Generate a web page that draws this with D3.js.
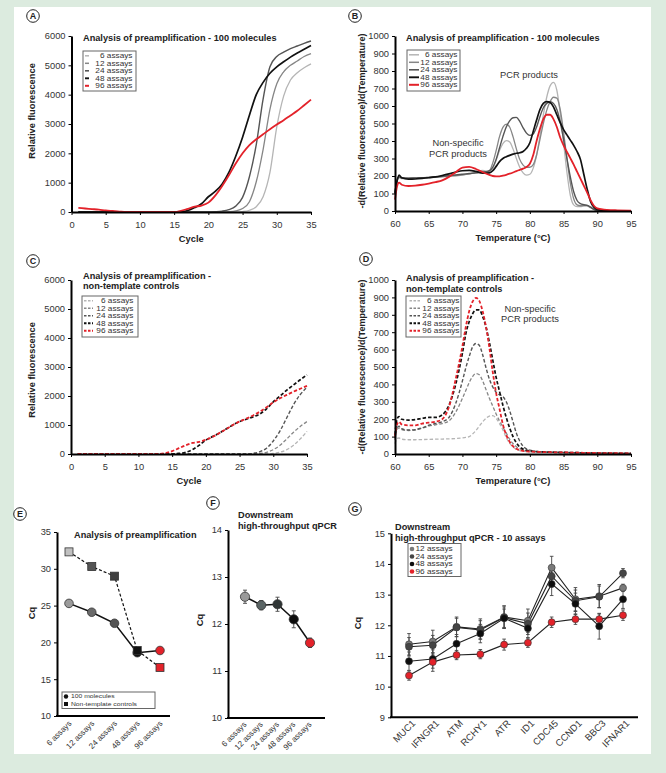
<!DOCTYPE html>
<html><head><meta charset="utf-8">
<script src="https://cdn.jsdelivr.net/npm/d3@7"></script>
<style>body{margin:0;background:#dcebdf}svg{display:block}text{font-family:"Liberation Sans",Arial,Helvetica,sans-serif}</style>
</head><body><svg id="c" width="666" height="773"></svg>
<script>
// ---------- DATA ----------
const seriesNames = ["6 assays","12 assays","24 assays","48 assays","96 assays"];
const cycles = [1,2,3,4,5,6,7,8,9,10,11,12,13,14,15,16,17,18,19,20,21,22,23,24,25,26,27,28,29,30,31,32,33,34,35];
// Panel A: amplification, 100 molecules
const a6  = [0,0,0,0,0,0,0,0,0,0,0,0,0,0,0,0,0,0,0,0,0,0,0,0,15,60,180,520,1350,2900,3950,4500,4750,4920,5050];
const a12 = [0,0,0,0,0,0,0,0,0,0,0,0,0,0,0,0,0,0,0,0,0,0,10,40,120,350,1030,2130,3500,4370,4780,5000,5150,5300,5400];
const a24 = [0,0,0,0,0,0,0,0,0,0,0,0,0,0,0,0,0,0,0,0,10,30,80,200,500,1200,2300,3850,4950,5300,5450,5570,5660,5750,5830];
const a48 = [0,0,0,0,0,0,0,0,0,0,0,0,0,0,0,10,50,150,280,520,700,950,1350,1900,2550,3300,4000,4420,4730,4950,5120,5280,5420,5550,5680];
const a96 = [140,120,100,80,55,35,15,0,0,0,0,0,0,0,0,40,110,180,220,320,560,880,1250,1650,2000,2280,2480,2650,2820,2980,3130,3290,3450,3640,3830];
// Panel C: amplification, non-template controls
const c6  = [0,0,0,0,0,0,0,0,0,0,0,0,0,0,0,0,0,0,0,0,0,0,0,0,0,0,0,0,0,20,60,150,300,520,780];
const c12 = [0,0,0,0,0,0,0,0,0,0,0,0,0,0,0,0,0,0,0,0,0,0,0,0,0,0,0,20,60,150,300,520,750,950,1120];
const c24 = [0,0,0,0,0,0,0,0,0,0,0,0,0,0,0,0,0,0,0,0,0,0,0,0,0,0,20,80,200,450,800,1250,1700,2050,2300];
const c48 = [0,0,0,0,0,0,0,0,0,0,0,0,0,0,0,20,60,150,300,480,600,720,860,1000,1120,1200,1280,1380,1560,1800,2000,2200,2380,2560,2730];
const c96 = [0,0,0,0,0,0,0,0,0,0,0,0,0,30,100,200,300,380,420,490,590,720,860,1000,1120,1220,1330,1460,1610,1780,1920,2040,2150,2250,2350];
// Panel B: melt curves, 100 molecules
const tempsB = [60,60.3,60.6,61,62,63,64,65,66,67,68,69,70,71,72,73,74,74.5,75,75.5,76,76.5,77,77.5,78,78.5,79,79.5,80,80.5,81,81.5,82,82.5,83,83.5,84,84.5,85,85.5,86,86.5,87,87.5,88,88.5,89,89.5,90,91,92,93,95];
const b6  = [110,175,190,185,185,186,188,190,192,195,198,200,205,212,222,232,225,245,290,345,385,402,395,355,300,250,218,205,210,245,320,430,550,650,715,735,690,560,390,220,90,35,25,25,28,28,18,8,3,1,0,0,0];
const b12 = [100,170,192,188,188,189,190,192,194,197,200,203,207,212,218,222,230,275,345,425,478,497,480,425,355,295,262,250,250,265,320,410,500,575,625,650,645,580,450,300,160,70,35,30,32,32,22,10,4,1,0,0,0];
const b24 = [105,175,195,190,188,189,190,192,195,198,202,206,210,214,218,222,230,250,295,360,425,480,515,533,535,512,475,445,432,440,480,540,590,615,625,615,580,510,410,300,195,110,60,42,36,32,22,10,4,1,0,0,0];
const b48 = [100,170,205,190,182,183,186,190,195,203,212,222,230,232,226,217,218,230,255,282,300,310,318,325,330,333,340,358,390,455,520,580,615,625,620,595,550,505,465,435,405,375,340,295,210,125,55,22,9,3,1,0,0];
const b96 = [65,140,162,150,143,145,150,157,165,175,195,222,248,252,240,222,206,200,198,198,202,207,213,220,228,235,242,252,270,320,400,470,525,550,550,525,480,420,375,338,302,265,225,185,145,105,62,30,15,8,5,4,2];
// Panel D: melt curves, non-template controls
const tempsD = [60,60.3,60.6,61,62,63,64,65,66,67,68,69,70,70.5,71,71.5,72,72.5,73,73.5,74,74.5,75,75.5,76,76.5,77,77.5,78,78.5,79,80,82,85,88,91,95];
const d6  = [60,90,92,85,82,82,83,84,85,86,87,89,92,95,100,115,135,160,185,205,218,220,205,175,138,95,62,40,27,20,16,12,10,8,6,5,3];
const d12 = [80,140,150,140,135,138,148,160,168,175,190,240,320,365,410,445,462,455,420,370,320,275,230,190,155,120,85,60,42,30,22,16,11,8,6,5,3];
const d24 = [90,150,160,145,138,140,150,165,175,185,210,290,420,495,560,615,635,625,570,495,430,385,355,340,330,300,250,185,120,75,45,22,12,9,6,5,3];
const d48 = [110,200,215,200,195,198,205,210,210,225,280,400,580,690,760,805,828,828,790,730,640,540,440,360,280,210,150,100,65,40,28,18,12,9,7,5,3];
const d96 = [100,170,185,170,165,165,175,180,185,200,270,430,620,730,820,875,897,880,820,730,610,470,350,260,170,110,70,45,30,22,18,14,11,9,7,5,4];
// Panel E: Cq of preamplification
const assayCats = ["6 assays","12 assays","24 assays","48 assays","96 assays"];
const eMolecules = [25.3,24.1,22.6,18.6,18.9];
const eNTC = [32.3,30.3,29.0,18.9,16.6];
// Panel F: downstream qPCR
const fCq  = [12.58,12.40,12.42,12.10,11.60];
const fErr = [0.14,0.10,0.15,0.18,0.10];
// Panel G: downstream qPCR, 10 assays
const genes = ["MUC1","IFNGR1","ATM","RCHY1","ATR","ID1","CDC45","CCND1","BBC3","IFNAR1"];
const gNames = ["12 assays","24 assays","48 assays","96 assays"];
const g12 = [11.38,11.47,11.95,11.88,12.27,12.15,13.88,12.85,12.95,13.22];
const g24 = [11.30,11.35,11.93,11.85,12.25,12.05,13.60,12.80,12.93,13.70];
const g48 = [10.83,10.90,11.40,11.73,12.23,11.90,13.35,12.70,11.97,12.85];
const g96 = [10.36,10.80,11.03,11.06,11.37,11.43,12.10,12.20,12.20,12.33];
const ge12 = [0.35,0.37,0.32,0.33,0.37,0.38,0.37,0.38,0.38,0.12];
const ge24 = [0.30,0.32,0.30,0.30,0.35,0.35,0.35,0.35,0.35,0.15];
const ge48 = [0.30,0.30,0.30,0.30,0.30,0.30,0.38,0.35,0.42,0.30];
const ge96 = [0.15,0.30,0.15,0.15,0.18,0.15,0.17,0.17,0.17,0.17];

// ---------- STYLE ----------
const FONT = '"Liberation Sans",Arial,Helvetica,sans-serif';
const lineColors = ["#b5b5b5","#868686","#555555","#111111","#e3222a"];
const lineWidths = [1.3,1.3,1.4,1.7,1.8];
const RED = "#e3222a";
const fmt = d3.format("d");

const svg = d3.select("#c");
svg.append("rect").attr("width",666).attr("height",773).attr("fill","#dcebdf");
svg.append("rect").attr("x",14).attr("y",7).attr("width",637).attr("height",747).attr("fill","#fff");

function styleAxis(sel){
  sel.attr("font-family",FONT);
  sel.select(".domain").attr("stroke","#000").attr("stroke-width",2);
  sel.selectAll(".tick line").attr("stroke","#000").attr("stroke-width",1);
  sel.selectAll(".tick text").attr("font-size",9.3).attr("fill","#333");
}
function txt(x,y,s,o={}){
  return svg.append("text").attr("x",x).attr("y",y).text(s)
    .attr("font-size",o.size||9).attr("font-weight",o.bold?"bold":null)
    .attr("fill",o.fill||"#222").attr("text-anchor",o.anchor||"start");
}
function vtxt(x,y,s,size){
  svg.append("text").attr("transform",`translate(${x},${y}) rotate(-90)`)
    .attr("text-anchor","middle").attr("dy","0.35em").attr("font-size",size||9.3)
    .attr("font-weight","bold").attr("fill","#222").text(s);
}
// small, horizontally widened legend text (as in the reference)
function ltxt(g,x,y,s,anchor,size){
  g.append("text").attr("transform",`translate(${x},${y}) scale(1.25,1)`)
    .attr("dy","0.35em").attr("text-anchor",anchor).attr("font-size",size||6.6)
    .attr("fill","#333").text(s);
}
function badge(x,y,l){
  svg.append("circle").attr("cx",x).attr("cy",y).attr("r",6.3).attr("fill","#fff").attr("stroke","#222").attr("stroke-width",1);
  svg.append("text").attr("x",x).attr("y",y).attr("dy","0.36em").attr("text-anchor","middle")
    .attr("font-size",9).attr("font-weight","bold").attr("fill","#222").text(l);
}

function linePanel(o){
  const x = d3.scaleLinear().domain(o.xd).range(o.xr);
  const y = d3.scaleLinear().domain(o.yd).range(o.yr);
  const g = svg.append("g");
  const line = d3.line().x((d,i)=>x(o.xs[i])).y(d=>y(d)).curve(d3.curveMonotoneX);
  o.series.forEach((s,i)=>{
    g.append("path").datum(s).attr("d",line).attr("fill","none")
      .attr("stroke",lineColors[i]).attr("stroke-width",lineWidths[i])
      .attr("stroke-dasharray",o.dash?"3.5,2":null).attr("stroke-linejoin","round");
  });
  const ax = g.append("g").attr("transform",`translate(0,${o.yr[0]})`)
    .call(d3.axisBottom(x).tickValues(o.xt).tickFormat(fmt).tickSize(3).tickSizeOuter(0).tickPadding(6));
  const ay = g.append("g").attr("transform",`translate(${o.xr[0]},0)`)
    .call(d3.axisLeft(y).tickValues(o.yt).tickFormat(fmt).tickSize(3).tickSizeOuter(0).tickPadding(3));
  styleAxis(ax); styleAxis(ay);
  txt((o.xr[0]+o.xr[1])/2, o.yr[0]+30, o.xlabel,{bold:true,anchor:"middle",size:9.3});
  vtxt(o.ylx,o.yly,o.ylabel,o.yls);
  o.title.forEach((t,i)=>txt(o.tx,o.ty+i*10.5,t,{bold:true,size:9.2}));
  const L = o.leg;
  g.append("rect").attr("x",L.x).attr("y",L.y).attr("width",L.w).attr("height",L.h)
    .attr("fill","#fff").attr("stroke","#666").attr("stroke-width",1);
  seriesNames.forEach((n,i)=>{
    const yy = L.y+4.8+i*7.5;
    g.append("line").attr("x1",L.s0).attr("x2",L.s1).attr("y1",yy).attr("y2",yy)
      .attr("stroke",lineColors[i]).attr("stroke-width",lineWidths[i]+0.2)
      .attr("stroke-dasharray",o.dash?"2.5,1.5":null);
    ltxt(g,L.te,yy,n,"end");
  });
}

const cyc5 = [0,5,10,15,20,25,30,35];
const t5 = [60,65,70,75,80,85,90,95];
const fl = [0,1000,2000,3000,4000,5000,6000];
const dr = [0,100,200,300,400,500,600,700,800,900,1000];

linePanel({xs:cycles,series:[a6,a12,a24,a48,a96],xd:[0,35],xr:[71.5,311],yd:[0,6000],yr:[212,36],
  xt:cyc5,yt:fl,xlabel:"Cycle",ylabel:"Relative fluorescence",ylx:32,yly:111,
  title:["Analysis of preamplification - 100 molecules"],tx:83,ty:41,
  leg:{x:83,y:51,w:53,h:40,s0:85,s1:89,te:132.5}});
linePanel({xs:tempsB,series:[b6,b12,b24,b48,b96],xd:[60,95],xr:[395,631],yd:[0,1000],yr:[211,36],
  xt:t5,yt:dr,xlabel:"Temperature (°C)",ylabel:"-d(Relative fluorescence)/d(Temperature)",ylx:361.5,yly:121,yls:9,
  title:["Analysis of preamplification - 100 molecules"],tx:406,ty:41,
  leg:{x:407,y:50,w:53,h:41,s0:409,s1:419,te:457.5}});
linePanel({xs:cycles,series:[c6,c12,c24,c48,c96],xd:[0,35],xr:[71,307],yd:[0,6000],yr:[454,280],
  xt:cyc5,yt:fl,xlabel:"Cycle",ylabel:"Relative fluorescence",ylx:32,yly:370,dash:true,
  title:["Analysis of preamplification -"," non-template controls"],tx:83,ty:278.5,
  leg:{x:82,y:296,w:56,h:41,s0:84,s1:93,te:133.5}});
linePanel({xs:tempsD,series:[d6,d12,d24,d48,d96],xd:[60,95],xr:[395,631],yd:[0,1000],yr:[454,280],
  xt:t5,yt:dr,xlabel:"Temperature (°C)",ylabel:"-d(Relative fluorescence)/d(Temperature)",ylx:361.5,yly:367,yls:9,dash:true,
  title:["Analysis of preamplification -"," non-template controls"],tx:406,ty:281,
  leg:{x:406,y:296,w:55,h:41,s0:409.5,s1:420,te:459.5}});

// annotations
txt(529,77.5,"PCR products",{anchor:"middle",size:9.3,fill:"#333"});
txt(458,146,"Non-specific",{anchor:"middle",size:9.3,fill:"#333"});
txt(458,156.8,"PCR products",{anchor:"middle",size:9.3,fill:"#333"});
txt(530,311.5,"Non-specific",{anchor:"middle",size:9.3,fill:"#333"});
txt(530,322,"PCR products",{anchor:"middle",size:9.3,fill:"#333"});

badge(33,16,"A"); badge(355,16,"B"); badge(33,261,"C"); badge(366,259,"D");

// ---------- Panel E ----------
(function(){
  const x = d3.scalePoint().domain(assayCats).range([69,160]);
  const y = d3.scaleLinear().domain([10,35]).range([716,532]);
  const g = svg.append("g");
  const ln = d3.line().x((d,i)=>x(assayCats[i])).y(d=>y(d));
  g.append("path").datum(eNTC).attr("d",ln).attr("fill","none").attr("stroke","#111").attr("stroke-width",1.2).attr("stroke-dasharray","3,2");
  g.append("path").datum(eMolecules).attr("d",ln).attr("fill","none").attr("stroke","#111").attr("stroke-width",1.5);
  const cf = ["#9b9b9b","#6a6a6a","#555","#111",RED];
  const sf = ["#c0c0c0","#555","#3f3f3f","#111",RED];
  eMolecules.forEach((v,i)=>g.append("circle").attr("cx",x(assayCats[i])).attr("cy",y(v)).attr("r",4.3)
    .attr("fill",cf[i]).attr("stroke","#333").attr("stroke-width",0.8));
  eNTC.forEach((v,i)=>g.append("rect").attr("x",x(assayCats[i])-4).attr("y",y(v)-4).attr("width",8).attr("height",8)
    .attr("fill",sf[i]).attr("stroke","#333").attr("stroke-width",0.8));
  const ay = g.append("g").attr("transform","translate(57,0)")
    .call(d3.axisLeft(y).tickValues([10,15,20,25,30,35]).tickFormat(fmt).tickSize(3).tickSizeOuter(0).tickPadding(3));
  styleAxis(ay);
  g.append("line").attr("x1",56).attr("x2",170).attr("y1",716).attr("y2",716).attr("stroke","#000").attr("stroke-width",2);
  assayCats.forEach(c=>g.append("text").attr("transform",`translate(${x(c)+3},724) rotate(-45)`)
    .attr("text-anchor","end").attr("font-size",8).attr("fill","#333").text(c));
  txt(74,537.5,"Analysis of preamplification",{bold:true,size:9.2});
  vtxt(32,613,"Cq");
  g.append("rect").attr("x",62).attr("y",692).attr("width",93).attr("height",16.5).attr("fill","#fff").attr("stroke","#666");
  g.append("circle").attr("cx",66).attr("cy",696.5).attr("r",2.2).attr("fill","#111");
  g.append("rect").attr("x",64).attr("y",702).attr("width",4).attr("height",4).attr("fill","#111");
  ltxt(g,71,696.5,"100 molecules","start",5.4);
  ltxt(g,71,704,"Non-template controls","start",5.4);
  badge(20,514,"E");
})();

// ---------- Panel F ----------
(function(){
  const x = d3.scalePoint().domain(assayCats).range([245,310]);
  const y = d3.scaleLinear().domain([10,14]).range([718,530]);
  const g = svg.append("g");
  const ln = d3.line().x((d,i)=>x(assayCats[i])).y(d=>y(d));
  fCq.forEach((v,i)=>{
    const cx = x(assayCats[i]);
    g.append("line").attr("x1",cx).attr("x2",cx).attr("y1",y(v-fErr[i])).attr("y2",y(v+fErr[i])).attr("stroke","#555").attr("stroke-width",1);
    [v-fErr[i],v+fErr[i]].forEach(e=>g.append("line").attr("x1",cx-2).attr("x2",cx+2).attr("y1",y(e)).attr("y2",y(e)).attr("stroke","#555"));
  });
  g.append("path").datum(fCq).attr("d",ln).attr("fill","none").attr("stroke","#111").attr("stroke-width",1.5);
  const ff = ["#9a9a9a","#5a6464","#2f3535","#0d0d0d",RED];
  fCq.forEach((v,i)=>g.append("circle").attr("cx",x(assayCats[i])).attr("cy",y(v)).attr("r",4.6)
    .attr("fill",ff[i]).attr("stroke","#333").attr("stroke-width",0.8));
  const ay = g.append("g").attr("transform","translate(228,0)")
    .call(d3.axisLeft(y).tickValues([10,11,12,13,14]).tickFormat(fmt).tickSize(3).tickSizeOuter(0).tickPadding(3));
  styleAxis(ay);
  g.append("line").attr("x1",227).attr("x2",325).attr("y1",718).attr("y2",718).attr("stroke","#000").attr("stroke-width",2);
  assayCats.forEach(c=>g.append("text").attr("transform",`translate(${x(c)+2},725) rotate(-45)`)
    .attr("text-anchor","end").attr("font-size",8).attr("fill","#333").text(c));
  txt(238,517.5,"Downstream",{bold:true,size:9.2});
  txt(238,528.5,"high-throughput qPCR",{bold:true,size:9.2});
  vtxt(200,620,"Cq");
  badge(213,503,"F");
})();

// ---------- Panel G ----------
(function(){
  const x = d3.scalePoint().domain(genes).range([409,623]);
  const y = d3.scaleLinear().domain([9,15]).range([717.3,533.3]);
  const g = svg.append("g");
  const vals = [g12,g24,g48,g96], errs = [ge12,ge24,ge48,ge96];
  const gf = ["#7a7a7a","#454545","#0d0d0d",RED];
  const ln = d3.line().x((d,i)=>x(genes[i])).y(d=>y(d));
  vals.forEach((s,k)=>{
    s.forEach((v,i)=>{
      const cx = x(genes[i]), e = errs[k][i];
      g.append("line").attr("x1",cx).attr("x2",cx).attr("y1",y(v-e)).attr("y2",y(v+e)).attr("stroke","#444").attr("stroke-width",0.9);
      [v-e,v+e].forEach(t=>g.append("line").attr("x1",cx-1.8).attr("x2",cx+1.8).attr("y1",y(t)).attr("y2",y(t)).attr("stroke","#444").attr("stroke-width",0.9));
    });
  });
  vals.forEach(s=>{
    g.append("path").datum(s).attr("d",ln).attr("fill","none").attr("stroke","#222").attr("stroke-width",1.1);
  });
  vals.forEach((s,k)=>{
    s.forEach((v,i)=>g.append("circle").attr("cx",x(genes[i])).attr("cy",y(v)).attr("r",3.5)
      .attr("fill",gf[k]).attr("stroke","#333").attr("stroke-width",0.6));
  });
  const ay = g.append("g").attr("transform","translate(391,0)")
    .call(d3.axisLeft(y).tickValues([9,10,11,12,13,14,15]).tickFormat(fmt).tickSize(3).tickSizeOuter(0).tickPadding(3));
  styleAxis(ay);
  g.append("line").attr("x1",390).attr("x2",638).attr("y1",717.3).attr("y2",717.3).attr("stroke","#000").attr("stroke-width",2);
  genes.forEach(c=>g.append("text").attr("transform",`translate(${x(c)+7},724) rotate(-45)`)
    .attr("text-anchor","end").attr("font-size",9.5).attr("fill","#333").text(c));
  txt(395,530,"Downstream",{bold:true,size:9.2});
  txt(395,540.5,"high-throughput qPCR - 10 assays",{bold:true,size:9.2});
  vtxt(358,623,"Cq");
  g.append("rect").attr("x",408).attr("y",543.5).attr("width",53).attr("height",33).attr("fill","#fff").attr("stroke","#666");
  gNames.forEach((n,k)=>{
    const yy = 549+k*7.5;
    g.append("circle").attr("cx",412).attr("cy",yy).attr("r",2.3).attr("fill",gf[k]);
    ltxt(g,415.5,yy,n,"start");
  });
  badge(355,509,"G");
})();
</script></body></html>
